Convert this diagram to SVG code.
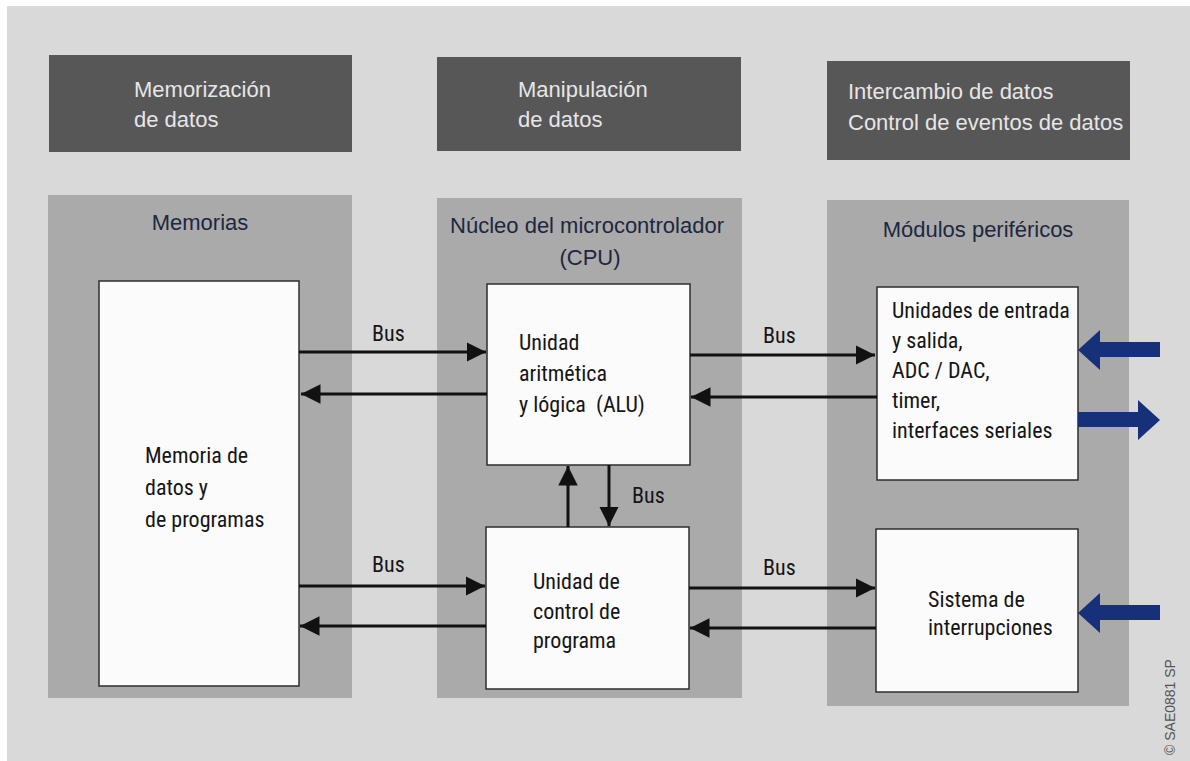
<svg xmlns="http://www.w3.org/2000/svg" width="1190" height="761" viewBox="0 0 1190 761">
  <defs>
    <marker id="ah" viewBox="0 0 10 10" refX="10" refY="5" markerWidth="6.5" markerHeight="6.5" markerUnits="strokeWidth" orient="auto">
      <path d="M0,0 L10,5 L0,10 Z" fill="#111"/>
    </marker>
    <style>
      .hdr { fill: #575757; }
      .hdr-t { font-family: "Liberation Sans", Arial, sans-serif; font-size: 22px; fill: #e6e6e6; }
      .panel { fill: #aaaaaa; }
      .panel-t { font-family: "Liberation Sans", Arial, sans-serif; font-size: 22px; fill: #1d2740; }
      .box { fill: #fbfbfb; stroke: #2e2e2e; stroke-width: 1.5; }
      .box-t { font-family: "Liberation Sans Narrow", "Roboto Condensed", "DejaVu Sans Condensed", "Liberation Sans", sans-serif; font-size: 22px; fill: #151515; }
      .bus { stroke: #111; stroke-width: 3; fill: none; marker-end: url(#ah); }
      .bus-t { font-family: "Liberation Sans Narrow", "Roboto Condensed", "DejaVu Sans Condensed", "Liberation Sans", sans-serif; font-size: 22px; fill: #151515; }
      .io { fill: #17307a; }
      .code { font-family: "Liberation Sans", Arial, sans-serif; font-size: 14px; fill: #555; }
    </style>
  </defs>

  <!-- page background -->
  <rect x="0" y="0" width="1190" height="761" fill="#ffffff"/>
  <rect x="7" y="6" width="1183" height="755" fill="#d9d9d9"/>

  <!-- column headers -->
  <g id="hdr-memorizacion">
    <rect class="hdr" x="49" y="55" width="303" height="97"/>
    <text class="hdr-t" x="134" y="97">Memorización</text>
    <text class="hdr-t" x="134" y="127">de datos</text>
  </g>
  <g id="hdr-manipulacion">
    <rect class="hdr" x="437" y="57" width="304" height="94"/>
    <text class="hdr-t" x="518" y="97">Manipulación</text>
    <text class="hdr-t" x="518" y="127">de datos</text>
  </g>
  <g id="hdr-intercambio">
    <rect class="hdr" x="827" y="61" width="303" height="99"/>
    <text class="hdr-t" x="848" y="99">Intercambio de datos</text>
    <text class="hdr-t" x="848" y="130">Control de eventos de datos</text>
  </g>

  <!-- column panels -->
  <g id="panel-memorias">
    <rect class="panel" x="48" y="195" width="304" height="503"/>
    <text class="panel-t" x="200" y="230" text-anchor="middle">Memorias</text>
  </g>
  <g id="panel-cpu">
    <rect class="panel" x="437" y="198" width="305" height="500"/>
    <text class="panel-t" x="587" y="233" text-anchor="middle">Núcleo del microcontrolador</text>
    <text class="panel-t" x="590" y="265" text-anchor="middle">(CPU)</text>
  </g>
  <g id="panel-perifericos">
    <rect class="panel" x="827" y="200" width="302" height="506"/>
    <text class="panel-t" x="978" y="237" text-anchor="middle">Módulos periféricos</text>
  </g>

  <!-- blocks -->
  <g id="memoria">
    <rect class="box" x="99" y="281" width="200" height="405"/>
    <text class="box-t" x="145" y="463">Memoria de</text>
    <text class="box-t" x="145" y="495">datos y</text>
    <text class="box-t" x="145" y="527">de programas</text>
  </g>
  <g id="alu">
    <rect class="box" x="487" y="284" width="203" height="181"/>
    <text class="box-t" x="519" y="350">Unidad</text>
    <text class="box-t" x="519" y="381">aritmética</text>
    <text class="box-t" x="519" y="412" xml:space="preserve">y lógica  (ALU)</text>
  </g>
  <g id="control">
    <rect class="box" x="486" y="527" width="203" height="162"/>
    <text class="box-t" x="533" y="589">Unidad de</text>
    <text class="box-t" x="533" y="619">control de</text>
    <text class="box-t" x="533" y="648">programa</text>
  </g>
  <g id="entrada-salida">
    <rect class="box" x="877" y="287" width="201" height="193"/>
    <text class="box-t" x="892" y="318">Unidades de entrada</text>
    <text class="box-t" x="892" y="348">y salida,</text>
    <text class="box-t" x="892" y="378">ADC / DAC,</text>
    <text class="box-t" x="892" y="408">timer,</text>
    <text class="box-t" x="892" y="438">interfaces seriales</text>
  </g>
  <g id="interrupciones">
    <rect class="box" x="876" y="529" width="202" height="163"/>
    <text class="box-t" x="928" y="607">Sistema de</text>
    <text class="box-t" x="928" y="635">interrupciones</text>
  </g>

  <!-- connectors -->
  <g id="connectors">
    <path class="bus" d="M299,352 L486,352"/>
    <path class="bus" d="M487,394 L301,394"/>
    <path class="bus" d="M299,586 L485,586"/>
    <path class="bus" d="M486,626 L300,626"/>
    <path class="bus" d="M690,355 L875,355"/>
    <path class="bus" d="M877,397 L691,397"/>
    <path class="bus" d="M689,588 L875,588"/>
    <path class="bus" d="M876,628 L690,628"/>
    <path class="bus" d="M568,527 L568,466"/>
    <path class="bus" d="M609,465 L609,526"/>
    <text class="bus-t" x="372" y="341">Bus</text>
    <text class="bus-t" x="372" y="572">Bus</text>
    <text class="bus-t" x="763" y="343">Bus</text>
    <text class="bus-t" x="763" y="575">Bus</text>
    <text class="bus-t" x="632" y="503">Bus</text>
    <!-- external signal arrows -->
    <path class="io" d="M1160,342 L1100,342 L1100,330 L1078,350 L1100,370 L1100,357 L1160,357 Z"/>
    <path class="io" d="M1078,412 L1138,412 L1138,400 L1160,420 L1138,440 L1138,427 L1078,427 Z"/>
    <path class="io" d="M1160,605 L1100,605 L1100,593 L1078,613 L1100,633 L1100,620 L1160,620 Z"/>
  </g>

  <!-- figure reference -->
  <text class="code" transform="translate(1175,755) rotate(-90)">© SAE0881 SP</text>
</svg>
